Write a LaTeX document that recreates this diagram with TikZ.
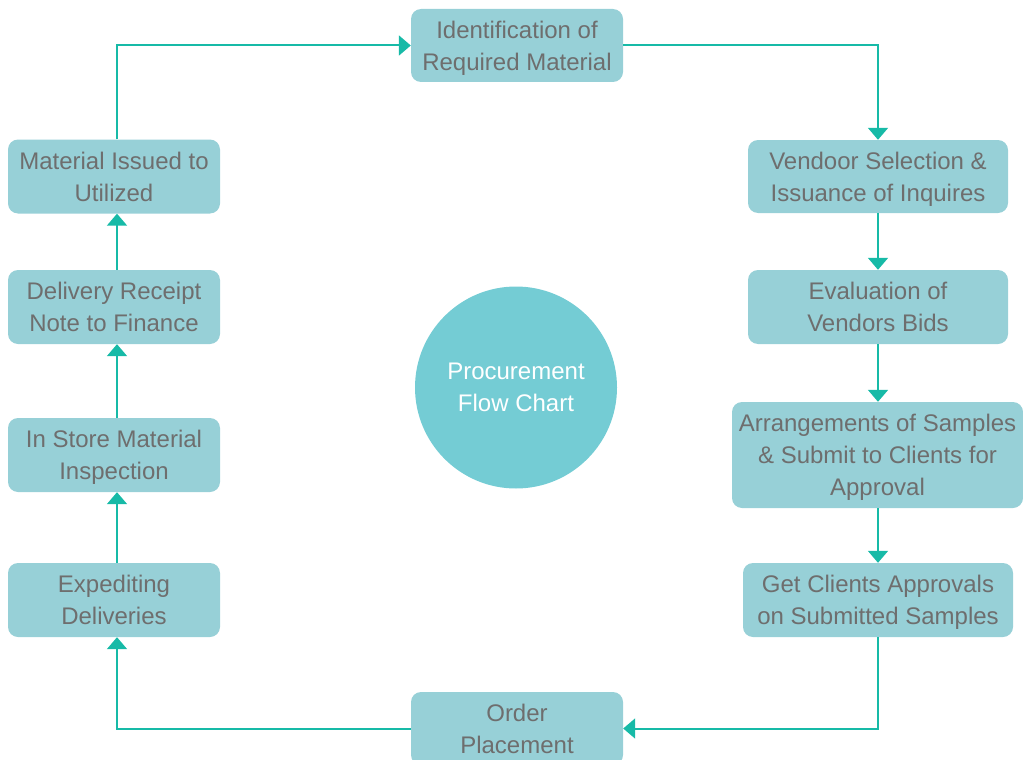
\documentclass[tikz,border=0pt]{standalone}
\usepackage{fontspec}
\setmainfont{Liberation Sans}
\usetikzlibrary{arrows.meta}
\definecolor{boxfill}{HTML}{97D0D7}
\definecolor{circfill}{HTML}{74CCD4}
\definecolor{txtgray}{HTML}{6E6E6E}
\definecolor{arrowc}{HTML}{17BAA7}
\tikzset{
  box/.style={rectangle, rounded corners=10pt, fill=boxfill, draw=none, inner sep=0pt,
    align=center, text=txtgray, font=\fontsize{24}{32}\selectfont, text depth=0pt},
  conn/.style={draw=arrowc, line width=2pt, -{Triangle[width=20pt,length=12pt]}}
}
\begin{document}
\begin{tikzpicture}[x=1pt,y=-1pt]
\useasboundingbox (0,0) rectangle (1023,760);
\begin{scope}
\clip (0,0) rectangle (1023,760);
% top and bottom
\node[box, minimum width=212pt, minimum height=73pt] (ident) at (517,45.5) {Identification of\\Required Material};
\node[box, minimum width=212pt, minimum height=73pt] (order) at (517,728.5) {Order\\Placement};
% right column
\node[box, minimum width=260pt, minimum height=73pt] (vend) at (878,176.5) {Vendoor Selection \&\\Issuance of Inquires};
\node[box, minimum width=260pt, minimum height=74pt] (eval) at (878,307) {Evaluation of\\Vendors Bids};
\node[box, minimum width=291pt, minimum height=106pt] (arr) at (877.5,455) {Arrangements of Samples\\\& Submit to Clients for\\Approval};
\node[box, minimum width=270pt, minimum height=74pt] (get) at (878,600) {Get Clients Approvals\\on Submitted Samples};
% left column
\node[box, minimum width=212pt, minimum height=74pt] (issued) at (114,176.5) {Material Issued to\\Utilized};
\node[box, minimum width=212pt, minimum height=74pt] (deliv) at (114,307) {Delivery Receipt\\Note to Finance};
\node[box, minimum width=212pt, minimum height=74pt] (store) at (114,455) {In Store Material\\Inspection};
\node[box, minimum width=212pt, minimum height=74pt] (exped) at (114,600) {Expediting\\Deliveries};
% center circle
\node[circle, fill=circfill, minimum size=202pt, inner sep=0pt, align=center, text=white,
  font=\fontsize{24}{32}\selectfont, text depth=0pt] (center) at (516,387.5) {Procurement\\Flow Chart};
\end{scope}
% connectors
\draw[conn] (ident.east) -| (878,0 |- vend.north);
\draw[conn] (vend.south -| 878,0) -- (878,0 |- eval.north);
\draw[conn] (eval.south -| 878,0) -- (878,0 |- arr.north);
\draw[conn] (arr.south -| 878,0) -- (878,0 |- get.north);
\draw[conn] (get.south -| 878,0) |- (order.east);
\draw[conn] (order.west) -| (117,0 |- exped.south);
\draw[conn] (exped.north -| 117,0) -- (117,0 |- store.south);
\draw[conn] (store.north -| 117,0) -- (117,0 |- deliv.south);
\draw[conn] (deliv.north -| 117,0) -- (117,0 |- issued.south);
\draw[conn] (issued.north -| 117,0) |- (ident.west);
\end{tikzpicture}
\end{document}
